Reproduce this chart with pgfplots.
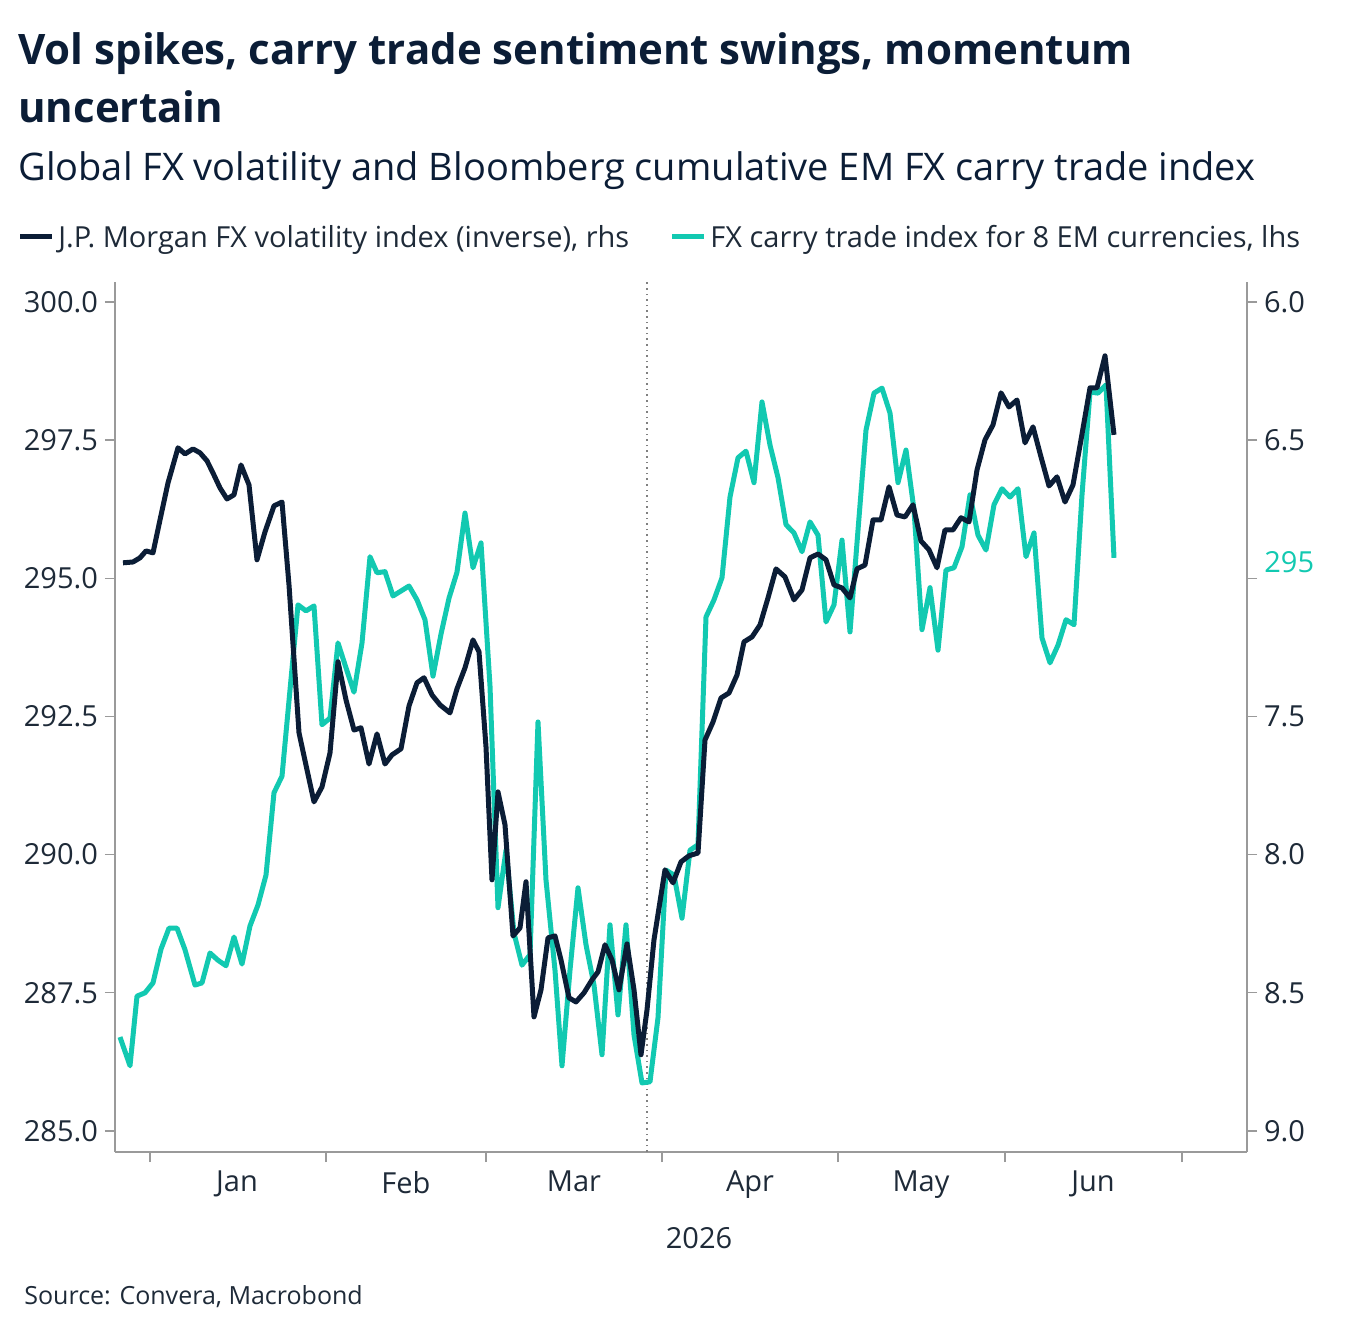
\documentclass[border=0pt]{standalone}
\usepackage{pgfplots}
\pgfplotsset{compat=1.18}
\usepackage{fontspec}
\setmainfont{Open Sans}
\definecolor{navy}{HTML}{0B1D36}
\definecolor{teal}{HTML}{12C9B1}
\definecolor{txt}{HTML}{1E2A38}
\definecolor{axg}{HTML}{9A9A9A}
\begin{document}
\begin{tikzpicture}
\useasboundingbox (0pt,0pt) rectangle (677.5pt,-667pt);
\node[anchor=base west,inner sep=0,text=navy,font=\bfseries\fontsize{21}{25}\selectfont] at (9pt,-32pt) {Vol spikes, carry trade sentiment swings, momentum};
\node[anchor=base west,inner sep=0,text=navy,font=\bfseries\fontsize{21}{25}\selectfont] at (9pt,-61pt) {uncertain};
\node[anchor=base west,inner sep=0,text=navy,font=\fontsize{19}{22}\selectfont] at (9pt,-90pt) {Global FX volatility and Bloomberg cumulative EM FX carry trade index};
\draw[navy,line width=2.5pt] (10pt,-118pt) -- (26pt,-118pt);
\node[anchor=base west,inner sep=0,text=txt,font=\fontsize{14.5}{17}\selectfont] at (29pt,-123.5pt) {J.P. Morgan FX volatility index (inverse), rhs};
\draw[teal,line width=2.5pt] (336pt,-118pt) -- (352pt,-118pt);
\node[anchor=base west,inner sep=0,text=txt,font=\fontsize{14.5}{17}\selectfont] at (355pt,-123.5pt) {FX carry trade index for 8 EM currencies, lhs};
\node[anchor=base west,inner sep=0,text=txt,font=\fontsize{12.5}{15}\selectfont] at (12pt,-652pt) {Source: Convera, Macrobond};
\begin{axis}[at={(57.5pt,-576pt)},anchor=south west,scale only axis,width=566pt,height=435pt,
 xmin=115,xmax=1247,ymin=284.62,ymax=300.36,
 axis x line*=bottom, axis y line*=left, axis line style={axg,line width=0.6pt},
 xtick={150,326,486,662,838,1005,1182},xticklabels={},
 extra x ticks={237,406,574,750,921,1093},
 extra x tick labels={Jan,Feb,Mar,Apr,May,Jun},
 extra x tick style={major tick length=0pt},
 ytick={285,287.5,290,292.5,295,297.5,300},
 yticklabel style={/pgf/number format/.cd,fixed,fixed zerofill,precision=1},
 /pgf/number format/assume math mode=true,
 tick style={axg,line width=0.6pt}, major tick length=5pt, tick align=outside,
 ticklabel style={text=txt,font=\fontsize{14.5}{17}\selectfont},
 xticklabel style={yshift=-6pt},
 grid=none, clip=false]
\addplot[gray,dotted,line width=0.8pt] coordinates {(647,284.62)(647,300.36)};
\addplot[teal,line width=2.5pt,line join=round] coordinates {
(120,286.70)(130,286.18)(137,287.44)(145,287.50)(153,287.68)(161,288.29)(169,288.67)(177,288.67)(185,288.28)(195,287.64)(202,287.68)(210,288.22)(218,288.09)(226,287.99)(234,288.51)(242,288.02)(250,288.71)(258,289.09)(266,289.63)(274,291.12)(282,291.42)(290,292.98)(298,294.52)(306,294.41)(314,294.50)(322,292.35)(330,292.47)(338,293.83)(346,293.38)(354,292.94)(362,293.83)(370,295.39)(377,295.10)(385,295.12)(393,294.68)(401,294.77)(409,294.86)(417,294.61)(425,294.25)(433,293.23)(441,293.99)(449,294.64)(457,295.11)(465,296.18)(473,295.19)(481,295.64)(490,293.05)(498,289.04)(506,290.08)(514,288.58)(522,288.00)(530,288.19)(538,292.40)(546,289.54)(555,287.91)(562,286.18)(570,287.91)(578,289.40)(586,288.37)(594,287.64)(602,286.38)(610,288.73)(618,287.10)(626,288.73)(634,286.74)(642,285.87)(650,285.89)(658,287.05)(666,289.72)(674,289.63)(682,288.85)(690,290.08)(698,290.18)(706,294.30)(714,294.61)(722,295.01)(730,296.47)(738,297.18)(746,297.30)(754,296.73)(762,298.19)(770,297.41)(778,296.82)(786,295.97)(794,295.82)(802,295.48)(810,296.02)(818,295.78)(826,294.21)(834,294.52)(842,295.69)(850,294.03)(858,295.87)(866,297.68)(874,298.35)(882,298.44)(890,297.99)(898,296.73)(906,297.32)(914,296.24)(922,294.07)(930,294.83)(938,293.70)(946,295.15)(954,295.19)(962,295.57)(970,296.51)(978,295.78)(986,295.51)(994,296.33)(1002,296.62)(1010,296.47)(1018,296.62)(1026,295.39)(1034,295.82)(1042,293.92)(1050,293.47)(1058,293.79)(1066,294.25)(1074,294.16)(1082,296.51)(1090,298.37)(1098,298.35)(1106,298.50)(1114,295.37)};
\end{axis}
\begin{axis}[at={(57.5pt,-576pt)},anchor=south west,scale only axis,width=566pt,height=435pt,
 xmin=115,xmax=1247,ymin=5.928,ymax=9.076,y dir=reverse,
 axis x line=none, axis y line*=right, axis line style={axg,line width=0.6pt},
 ytick={6,6.5,7,7.5,8,8.5,9},
 yticklabels={6.0,6.5,,7.5,8.0,8.5,9.0},
 /pgf/number format/assume math mode=true,
 tick style={axg,line width=0.6pt}, major tick length=5pt, tick align=outside,
 ticklabel style={text=txt,font=\fontsize{14.5}{17}\selectfont},
 clip=false]
\addplot[navy,line width=2.5pt,line join=round] coordinates {
(123,6.944)(133,6.941)(140,6.926)(146,6.901)(153,6.908)(160,6.789)(168,6.655)(178,6.528)(185,6.550)(193,6.532)(200,6.546)(207,6.575)(213,6.619)(220,6.673)(227,6.713)(234,6.698)(241,6.590)(249,6.662)(257,6.933)(265,6.832)(274,6.738)(282,6.724)(289,7.024)(299,7.559)(307,7.693)(314,7.809)(322,7.755)(330,7.632)(338,7.302)(346,7.440)(354,7.549)(361,7.541)(369,7.672)(377,7.563)(385,7.672)(392,7.639)(401,7.617)(409,7.462)(417,7.378)(424,7.360)(432,7.422)(440,7.458)(450,7.487)(457,7.400)(465,7.324)(473,7.223)(479,7.266)(486,7.610)(492,8.091)(498,7.773)(505,7.892)(513,8.294)(520,8.265)(526,8.098)(534,8.587)(541,8.489)(548,8.301)(555,8.294)(561,8.381)(569,8.518)(576,8.533)(584,8.500)(592,8.453)(598,8.424)(605,8.326)(612,8.381)(619,8.489)(627,8.323)(634,8.489)(641,8.724)(647,8.562)(654,8.308)(665,8.055)(673,8.102)(681,8.026)(689,8.004)(698,7.994)(705,7.585)(713,7.520)(721,7.433)(729,7.415)(737,7.350)(744,7.230)(752,7.212)(760,7.169)(768,7.071)(776,6.966)(785,6.995)(794,7.078)(802,7.042)(810,6.926)(818,6.912)(826,6.933)(834,7.024)(842,7.035)(850,7.071)(857,6.966)(865,6.952)(873,6.789)(881,6.789)(889,6.669)(897,6.771)(905,6.778)(913,6.734)(921,6.865)(929,6.897)(937,6.962)(945,6.825)(953,6.825)(961,6.781)(969,6.796)(977,6.608)(985,6.499)(993,6.445)(1001,6.329)(1009,6.380)(1017,6.355)(1025,6.510)(1033,6.452)(1041,6.561)(1049,6.666)(1057,6.633)(1065,6.724)(1073,6.662)(1081,6.499)(1090,6.311)(1097,6.311)(1105,6.195)(1114,6.481)};
\node[anchor=west,text=teal,font=\fontsize{14.5}{17}\selectfont,fill=white,inner sep=1pt] at (axis cs:1262,6.94) {295};
\end{axis}
\node[anchor=base,inner sep=0,text=txt,font=\fontsize{14.5}{17}\selectfont] at (349.5pt,-624pt) {2026};
\end{tikzpicture}
\end{document}
